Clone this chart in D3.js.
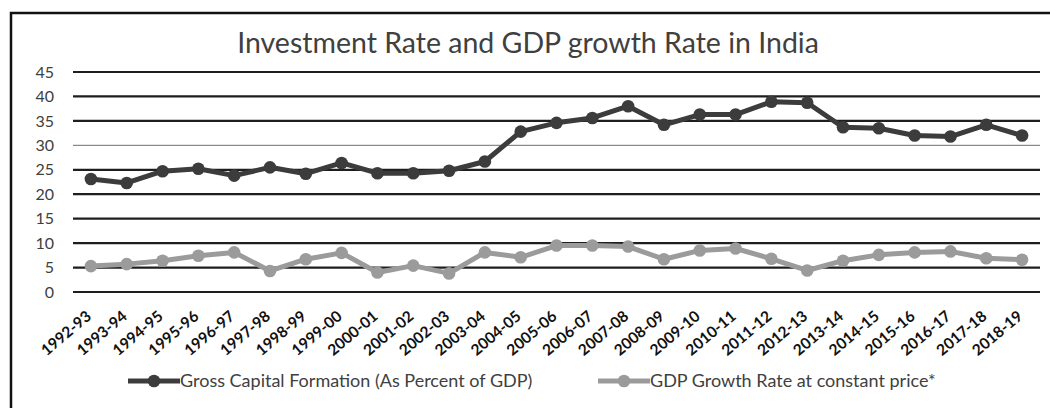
<!DOCTYPE html>
<html>
<head>
<meta charset="utf-8">
<script src="https://cdn.jsdelivr.net/npm/d3@7"></script>
<style>
  body { margin: 0; background: white; }
  svg { display: block; font-family: Lato, sans-serif; }
</style>
</head>
<body>
<div id="chart"></div>
<script>
// Data
const years = ['1992-93','1993-94','1994-95','1995-96','1996-97','1997-98','1998-99','1999-00',
  '2000-01','2001-02','2002-03','2003-04','2004-05','2005-06','2006-07','2007-08','2008-09',
  '2009-10','2010-11','2011-12','2012-13','2013-14','2014-15','2015-16','2016-17','2017-18','2018-19'];
const gcf = [23.1, 22.3, 24.7, 25.2, 23.8, 25.5, 24.2, 26.4, 24.3, 24.3, 24.8, 26.7, 32.8, 34.6,
  35.6, 38.0, 34.2, 36.3, 36.3, 38.9, 38.7, 33.7, 33.5, 32.0, 31.8, 34.2, 32.0];
const gdpGrowth = [5.3, 5.7, 6.4, 7.4, 8.1, 4.3, 6.7, 8.0, 4.0, 5.4, 3.8, 8.1, 7.1, 9.5, 9.5, 9.3,
  6.7, 8.5, 8.9, 6.8, 4.4, 6.4, 7.6, 8.1, 8.3, 6.9, 6.6];
const yTicks = [0, 5, 10, 15, 20, 25, 30, 35, 40, 45];
const seriesNames = ['Gross Capital Formation (As Percent of GDP)', 'GDP Growth Rate at constant price*'];
const seriesColors = ['#3c3c3c', '#9b9b9b'];

const width = 1050;
const height = 408;
// plot area
const margin = {top: 72, right: 10, bottom: 116, left: 73};
const cWidth = 1040 - margin.left;
const cHeight = 292 - margin.top;

let svg = d3.select('#chart').append('svg')
  .attr('width', width)
  .attr('height', height);

// outer frame (right and bottom edges fall outside the picture)
svg.append('rect')
  .attr('x', 11).attr('y', 13)
  .attr('width', 1060).attr('height', 420)
  .attr('fill', 'white')
  .attr('stroke', '#111')
  .attr('stroke-width', 2.5);

// title
svg.append('text')
  .attr('x', 528).attr('y', 53)
  .attr('text-anchor', 'middle')
  .attr('fill', '#404040')
  .style('font-size', '28.5px')
  .text('Investment Rate and GDP growth Rate in India');

let g = svg.append('g').attr('transform', `translate(${margin.left},${margin.top})`);

let x = d3.scalePoint().domain(years).range([0, cWidth]).padding(0.5);
let y = d3.scaleLinear().domain([0, 45]).range([cHeight, 0]);

// gridlines
g.append('g')
  .selectAll('line')
  .data(yTicks)
  .enter().append('line')
  .attr('x1', 0).attr('x2', cWidth)
  .attr('y1', d => y(d)).attr('y2', d => y(d))
  .attr('stroke', d => d === 30 ? '#8a8a8a' : '#1e1e1e')
  .attr('stroke-width', d => d === 30 ? 1.2 : 2.2);

// y axis labels
let yAxis = g.append('g')
  .call(d3.axisLeft(y).tickValues(yTicks).tickSize(0).tickPadding(19));
yAxis.select('.domain').remove();
yAxis.selectAll('text')
  .attr('fill', '#404040')
  .style('font-size', '16px')
  .style('font-family', 'Lato, sans-serif');

// x axis labels
let xAxis = g.append('g')
  .attr('transform', `translate(0,${cHeight})`)
  .call(d3.axisBottom(x).tickSize(0).tickPadding(0));
xAxis.select('.domain').remove();
xAxis.selectAll('text')
  .attr('text-anchor', 'end')
  .attr('dy', 0)
  .attr('transform', 'translate(1,26) rotate(-40)')
  .attr('fill', '#111')
  .style('font-size', '15.5px')
  .style('font-weight', '700')
  .style('font-family', 'Lato, sans-serif');

// series lines and markers
let series = [gcf, gdpGrowth];
let line = d3.line()
  .x((d, i) => x(years[i]))
  .y(d => y(d));

series.forEach((vals, s) => {
  g.append('path')
    .attr('d', line(vals))
    .attr('fill', 'none')
    .attr('stroke', seriesColors[s])
    .attr('stroke-width', 5)
    .attr('stroke-linejoin', 'round');
  g.selectAll(`.dot-${s}`)
    .data(vals)
    .enter().append('circle')
    .attr('class', `dot-${s}`)
    .attr('cx', (d, i) => x(years[i]))
    .attr('cy', d => y(d))
    .attr('r', 6.3)
    .attr('fill', seriesColors[s]);
});

// legend
const legendX = [128, 598];
const legendY = 381;
let legend = svg.selectAll('.legend')
  .data(seriesNames)
  .enter().append('g')
  .attr('class', 'legend')
  .attr('transform', (d, i) => `translate(${legendX[i]},${legendY})`);

legend.append('line')
  .attr('x1', 0).attr('x2', 52)
  .attr('stroke', (d, i) => seriesColors[i])
  .attr('stroke-width', 5);
legend.append('circle')
  .attr('cx', 26).attr('r', 6.3)
  .attr('fill', (d, i) => seriesColors[i]);
legend.append('text')
  .attr('x', 52).attr('y', 6)
  .attr('fill', '#404040')
  .style('font-size', '18px')
  .text(d => d);
</script>
</body>
</html>
